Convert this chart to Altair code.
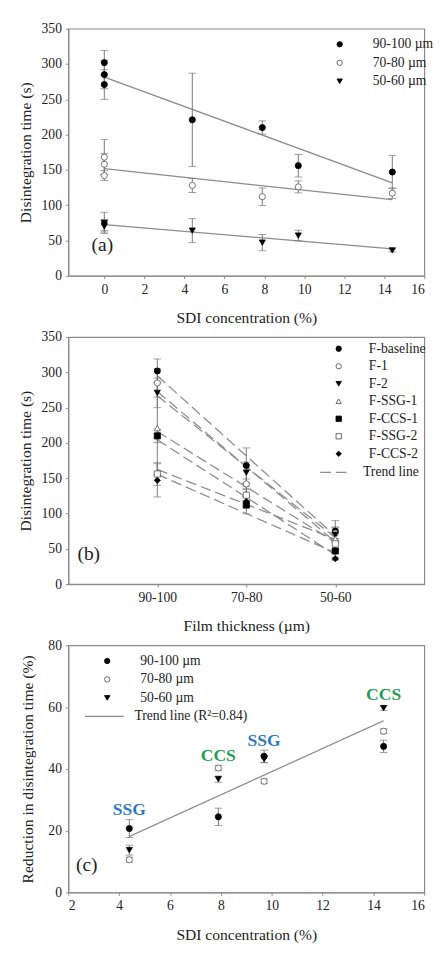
import json
import altair as alt
import pandas as pd

FONT = "Liberation Serif"
GREY = "#8c8c8c"

# ---------------- data ----------------
formulations = ["F-baseline", "F-1", "F-2", "F-SSG-1", "F-CCS-1", "F-SSG-2", "F-CCS-2"]
sdi = [0, 0, 0, 4.4, 7.9, 9.7, 14.4]
thickness = ["90-100 µm", "70-80 µm", "50-60 µm"]
thickness_ticks = ["90-100", "70-80", "50-60"]

time_90 = [302, 285, 271, 221, 210, 156, 147]
err_90 = [17, 20, 21, 66, 9.5, 16, 23.5]
time_70 = [168, 142, 158, 128, 112, 126, 117]
err_70 = [25, 7, 15, 10, 12.5, 8.5, 7.5]
time_50 = [75, 72, 70, 64, 47, 57, 36]
err_50 = [15, 8, 8, 17, 11.5, 7.5, 2]

sdi_c = [4.4, 7.9, 9.7, 14.4]
red_90 = [20.7, 24.5, 44.1, 47.3]
rerr_90 = [2.9, 2.8, 2.0, 2.0]
red_70 = [10.6, 40.3, 36.0, 52.2]
rerr_70 = [0.8, 0.8, 0.8, 0.8]
red_50 = [13.7, 36.7, 43.2, 59.7]
rerr_50 = [1.6, 1.0, 1.2, 0.8]

annot_text = ["SSG", "CCS", "SSG", "CCS"]
annot_y = [26.6, 44.2, 49.0, 63.9]
annot_colors = {"SSG": "#2f78bd", "CCS": "#1f9d55"}

trend_label_b = "Trend line"
trend_label_c = "Trend line (R²=0.84)"

# ---------------- tables ----------------
dfa = pd.DataFrame({
    "sdi": sdi * 3,
    "formulation": formulations * 3,
    "thickness": [t for t in thickness for _ in sdi],
    "time": time_90 + time_70 + time_50,
    "err": err_90 + err_70 + err_50,
})
dfa["lo"] = dfa["time"] - dfa["err"]
dfa["hi"] = dfa["time"] + dfa["err"]

dfc = pd.DataFrame({
    "sdi": sdi_c * 3,
    "thickness": [t for t in thickness for _ in sdi_c],
    "red": red_90 + red_70 + red_50,
    "err": rerr_90 + rerr_70 + rerr_50,
})
dfc["lo"] = dfc["red"] - dfc["err"]
dfc["hi"] = dfc["red"] + dfc["err"]

dfann = pd.DataFrame({"sdi": sdi_c, "y": annot_y, "label": annot_text})

W, H = 366, 254

thick_shape = alt.Scale(domain=thickness, range=["circle", "circle", "triangle-down"])
thick_fill = alt.Scale(domain=thickness, range=["black", "white", "black"])
thick_stroke = alt.Scale(domain=thickness, range=["black", "#555", "black"])
form_shape = alt.Scale(domain=formulations,
                       range=["circle", "circle", "triangle-down", "triangle-up", "square", "square", "diamond"])
form_fill = alt.Scale(domain=formulations,
                      range=["black", "white", "black", "white", "black", "white", "black"])
form_stroke = alt.Scale(domain=formulations,
                        range=["black", "#555", "black", "#555", "black", "#555", "black"])

AX = dict(labelFont=FONT, labelFontSize=14, labelColor="#222", titleFont=FONT, titleFontSize=16,
          titleFontWeight="normal", titleColor="#222", domainColor=GREY, domainWidth=1.2,
          tickColor=GREY, tickSize=3, labelPadding=4, grid=False)


def xaxis(**kw):
    return alt.Axis(titlePadding=14, **AX, **kw)


def yaxis(**kw):
    return alt.Axis(**AX, **kw)


def sym_legend(x, y, offset, rowpad):
    return alt.Legend(orient="none", legendX=x, legendY=y, title=None, labelFont=FONT,
                      labelFontSize=14, labelFontWeight="normal", labelColor="#222", symbolSize=30,
                      symbolStrokeWidth=0.9, labelOffset=offset,
                      rowPadding=rowpad, padding=0)


def line_legend(x, y, size, offset):
    return alt.Legend(orient="none", legendX=x, legendY=y, title=None, labelFont=FONT, labelFontSize=14,
                      labelFontWeight="normal", labelColor="#222", symbolSize=size,
                      symbolStrokeColor=GREY, symbolStrokeWidth=1.3, labelOffset=offset, padding=0)


def panel(df, calc, xfield, yfield, xscale, yscale, xax, yax, field, sh, fi, st, leg,
          trend, letter, letter_xy):
    base = alt.Chart(df)
    if calc:
        base = base.transform_calculate(**calc)
    x = alt.X(xfield, scale=xscale, axis=xax)
    rule = base.mark_rule(color="#777", strokeWidth=1).encode(
        x=x, y=alt.Y("lo:Q", scale=yscale, axis=yax), y2="hi:Q")
    cap_lo = base.mark_tick(color="#777", size=8, thickness=1, orient="horizontal").encode(
        x=x, y=alt.Y("lo:Q", scale=yscale, axis=yax))
    cap_hi = base.mark_tick(color="#777", size=8, thickness=1, orient="horizontal").encode(
        x=x, y=alt.Y("hi:Q", scale=yscale, axis=yax))
    pts = base.mark_point(size=40, opacity=1, strokeWidth=0.8).encode(
        x=x, y=alt.Y(yfield, scale=yscale, axis=yax),
        shape=alt.Shape(field, scale=sh, legend=leg),
        fill=alt.Fill(field, scale=fi, legend=leg),
        stroke=alt.Stroke(field, scale=st, legend=leg))
    lab = alt.Chart(pd.DataFrame({"t": [letter]})).mark_text(
        font=FONT, fontSize=20, align="center", baseline="middle", color="#222").encode(
        text="t:N", x=alt.value(letter_xy[0]), y=alt.value(letter_xy[1]))
    return [trend, rule, cap_lo, cap_hi, pts, lab]


# ---------------- panel (a) ----------------
xsa = alt.Scale(domain=[-1.8, 16], nice=False, zero=False)
ysa = alt.Scale(domain=[0, 350], nice=False)
xaxa = xaxis(values=list(range(0, 17, 2)), title="SDI concentration (%)")
yaxa = yaxis(values=list(range(0, 351, 50)), title="Disintegration time (s)", titlePadding=8)
trend_a = alt.Chart(dfa).transform_regression("sdi", "time", groupby=["thickness"]).mark_line(
    color=GREY, strokeWidth=1.3).encode(
    x=alt.X("sdi:Q", scale=xsa, axis=xaxa), y=alt.Y("time:Q", scale=ysa, axis=yaxa),
    detail="thickness:N")
chart_a = alt.layer(*panel(dfa, None, "sdi:Q", "time:Q", xsa, ysa, xaxa, yaxa, "thickness:N",
                           thick_shape, thick_fill, thick_stroke, sym_legend(272, 9, 27, 5),
                           trend_a, "(a)", (35, 223))).properties(width=W, height=H)

# ---------------- panel (b) ----------------
pos_expr = "indexof(%s, datum.thickness) + 1" % json.dumps(thickness, ensure_ascii=False)
label_expr = "%s[datum.value - 1]" % json.dumps(thickness_ticks)
xsb = alt.Scale(domain=[0, 4], nice=False, zero=False)
xaxb = xaxis(values=[1, 2, 3], labelExpr=label_expr, title="Film thickness (µm)")
yaxb = yaxis(values=list(range(0, 351, 50)), title="Disintegration time (s)", titlePadding=8)
trend_b = alt.Chart(dfa).transform_calculate(pos=pos_expr).transform_regression(
    "pos", "time", groupby=["formulation"]).transform_calculate(lbl="'%s'" % trend_label_b).mark_line(
    color=GREY, strokeWidth=1.3).encode(
    x=alt.X("pos:Q", scale=xsb, axis=xaxb), y=alt.Y("time:Q", scale=ysa, axis=yaxb),
    detail="formulation:N",
    strokeDash=alt.StrokeDash("lbl:N", scale=alt.Scale(domain=[trend_label_b], range=[[11, 5]]),
                              legend=line_legend(258, 123, 900, 13)))
chart_b = alt.layer(*panel(dfa, {"pos": pos_expr}, "pos:Q", "time:Q", xsb, ysa, xaxb, yaxb,
                           "formulation:N", form_shape, form_fill, form_stroke,
                           sym_legend(271, 5, 24, 4), trend_b, "(b)", (21, 223))).properties(width=W, height=H)

# ---------------- panel (c) ----------------
xsc = alt.Scale(domain=[2, 16], nice=False, zero=False)
ysc = alt.Scale(domain=[0, 80], nice=False)
xaxc = xaxis(values=list(range(2, 17, 2)), title="SDI concentration (%)")
yaxc = yaxis(values=list(range(0, 81, 20)), title="Reduction in disintegration time (%)", titlePadding=13)
trend_c = alt.Chart(dfc).transform_regression("sdi", "red").transform_calculate(
    lbl="'%s'" % trend_label_c).mark_line(strokeWidth=1.3, color=GREY).encode(
    x=alt.X("sdi:Q", scale=xsc, axis=xaxc), y=alt.Y("red:Q", scale=ysc, axis=yaxc),
    strokeDash=alt.StrokeDash("lbl:N", scale=alt.Scale(domain=[trend_label_c], range=[[1, 0]]),
                              legend=line_legend(16, 52, 1600, 10)))
ann = alt.Chart(dfann).mark_text(font=FONT, fontSize=18, fontWeight="bold", align="center",
                                  baseline="middle").encode(
    x=alt.X("sdi:Q", scale=xsc, axis=xaxc), y=alt.Y("y:Q", scale=ysc, axis=yaxc), text="label:N",
    color=alt.Color("label:N", scale=alt.Scale(domain=list(annot_colors), range=list(annot_colors.values())),
                    legend=None))
layers_c = panel(dfc, None, "sdi:Q", "red:Q", xsc, ysc, xaxc, yaxc, "thickness:N",
                 thick_shape, thick_fill, thick_stroke, sym_legend(33, 9, 27, 5),
                 trend_c, "(c)", (19, 226))
chart_c = alt.layer(*layers_c, ann).properties(width=W, height=H)

chart = alt.vconcat(chart_a, chart_b, chart_c, spacing=63, bounds="flush").resolve_scale(
    x="independent", y="independent", shape="independent", fill="independent",
    stroke="independent", strokeDash="independent", color="independent").resolve_legend(
    shape="independent", fill="independent", strokeDash="independent", stroke="independent",
    color="independent").properties(
    padding={"left": 9, "top": 0, "right": 0, "bottom": 0}).configure_view(
    stroke=GREY, strokeWidth=1.2)

chart.save("out.html", embed_options={"renderer": "svg", "actions": False})
